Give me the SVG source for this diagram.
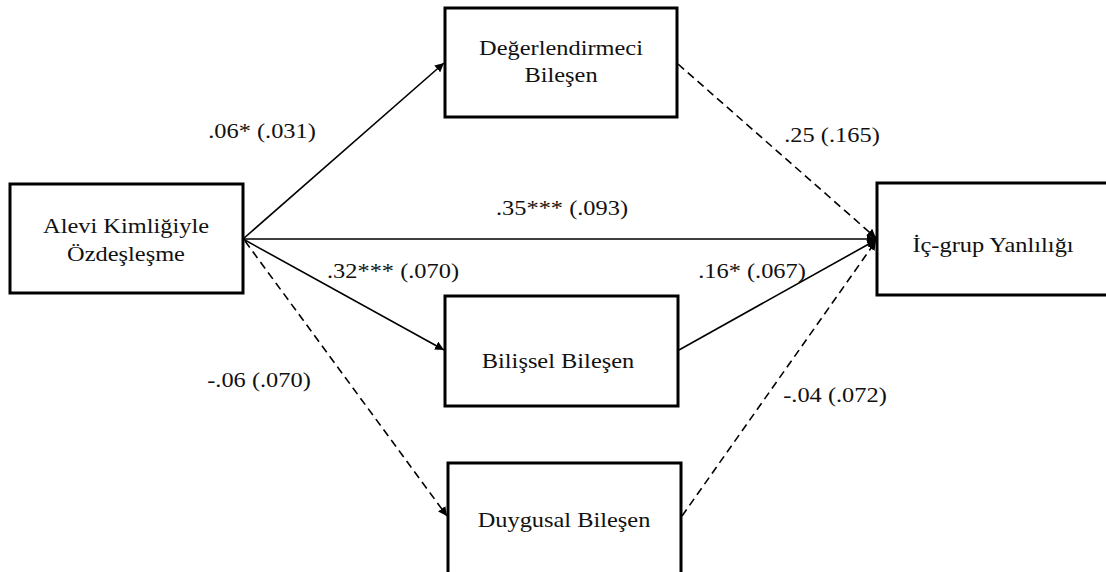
<svg xmlns="http://www.w3.org/2000/svg" width="1106" height="572" viewBox="0 0 1106 572">
<style>
.box{fill:#fff;stroke:#000;stroke-width:3}
.t{font-family:"Liberation Serif","Times New Roman",serif;font-size:20px;fill:#111;text-anchor:middle}
.c{stroke:#000;stroke-width:1.6;fill:none}
.d{stroke-dasharray:8,5}
</style>
<defs>
<marker id="ah" viewBox="0 0 10 10" refX="10" refY="5" markerWidth="9" markerHeight="9" markerUnits="userSpaceOnUse" orient="auto">
<path d="M0,0 L10,5 L0,10 Z" fill="#000"/>
</marker>
</defs>
<rect width="1106" height="572" fill="#fff"/>
<g id="connectors">
<line class="c" x1="243" y1="239" x2="444" y2="63" marker-end="url(#ah)"/>
<line class="c" x1="243" y1="239" x2="444" y2="350" marker-end="url(#ah)"/>
<line class="c d" x1="245" y1="241" x2="447" y2="516" marker-end="url(#ah)"/>
<line class="c" x1="243" y1="239" x2="876" y2="239" marker-end="url(#ah)"/>
<line class="c d" x1="678" y1="64" x2="876" y2="238" marker-end="url(#ah)"/>
<line class="c" x1="679" y1="350" x2="876" y2="240" marker-end="url(#ah)"/>
<line class="c d" x1="682" y1="516" x2="876" y2="241" marker-end="url(#ah)"/>
<circle cx="875" cy="239" r="3" fill="#000"/>
</g>
<g id="labels">
<text class="t" transform="matrix(1.22 0 0 1 262 0)" x="0" y="138">.06* (.031)</text>
<text class="t" transform="matrix(1.22 0 0 1 832 0)" x="0" y="142">.25 (.165)</text>
<text class="t" transform="matrix(1.22 0 0 1 562 0)" x="0" y="215">.35*** (.093)</text>
<text class="t" transform="matrix(1.22 0 0 1 393 0)" x="0" y="278">.32*** (.070)</text>
<text class="t" transform="matrix(1.22 0 0 1 752 0)" x="0" y="278">.16* (.067)</text>
<text class="t" transform="matrix(1.22 0 0 1 259 0)" x="0" y="387">-.06 (.070)</text>
<text class="t" transform="matrix(1.22 0 0 1 835 0)" x="0" y="402">-.04 (.072)</text>
</g>
<g id="node-alevi">
<rect class="box" x="10" y="184" width="233" height="109"/>
<text class="t" transform="matrix(1.22 0 0 1 126 0)" x="0" y="233">Alevi Kimliğiyle</text>
<text class="t" transform="matrix(1.22 0 0 1 126 0)" x="0" y="261">Özdeşleşme</text>
</g>
<g id="node-degerlendirmeci">
<rect class="box" x="445" y="8" width="232" height="109"/>
<text class="t" transform="matrix(1.22 0 0 1 561 0)" x="0" y="55">Değerlendirmeci</text>
<text class="t" transform="matrix(1.22 0 0 1 561 0)" x="0" y="82">Bileşen</text>
</g>
<g id="node-bilissel">
<rect class="box" x="445" y="296" width="233" height="110"/>
<text class="t" transform="matrix(1.22 0 0 1 558 0)" x="0" y="368">Bilişsel Bileşen</text>
</g>
<g id="node-duygusal">
<rect class="box" x="448" y="463" width="233" height="120"/>
<text class="t" transform="matrix(1.22 0 0 1 564 0)" x="0" y="527">Duygusal Bileşen</text>
</g>
<g id="node-icgrup">
<rect class="box" x="877" y="183" width="240" height="112"/>
<text class="t" transform="matrix(1.22 0 0 1 993 0)" x="0" y="252">İç-grup Yanlılığı</text>
</g>
</svg>
